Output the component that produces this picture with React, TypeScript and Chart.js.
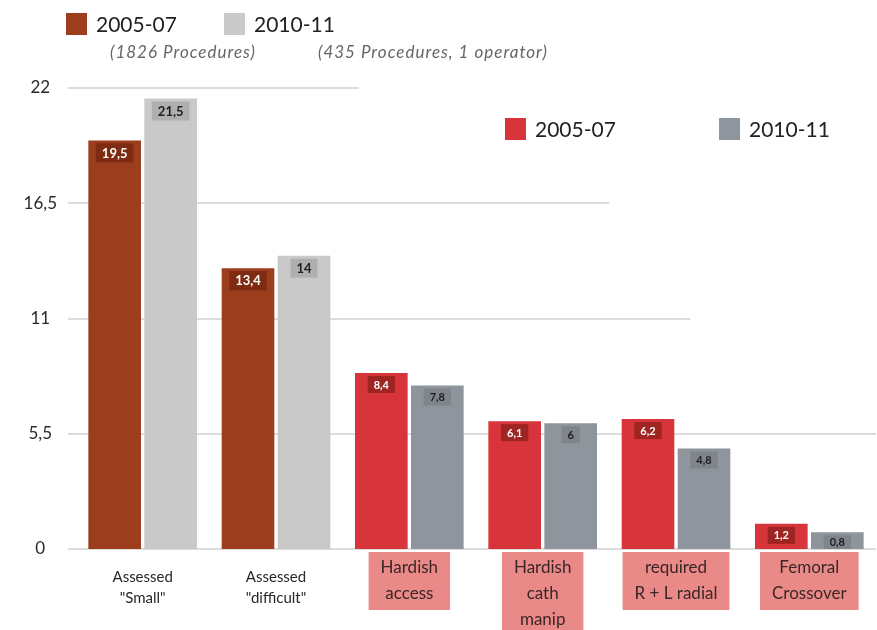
import React, { useEffect, useRef } from "react";
import { Chart, registerables } from "chart.js";

Chart.register(...registerables);

const categories: string[][] = [
  ["Assessed", "\"Small\""],
  ["Assessed", "\"difficult\""],
  ["Hardish", "access"],
  ["Hardish", "cath", "manip"],
  ["required", "R + L radial"],
  ["Femoral", "Crossover"],
];
const series2005: number[] = [19.5, 13.4, 8.4, 6.1, 6.2, 1.2];
const series2010: number[] = [21.5, 14, 7.8, 6, 4.8, 0.8];
const yTicks: number[] = [0, 5.5, 11, 16.5, 22];
const legendTop = ["2005-07", "2010-11"];
const legendTopNotes = ["(1826 Procedures)", "(435 Procedures, 1 operator)"];
const legendRight = ["2005-07", "2010-11"];

const BROWN = "#9c3e1d";
const LIGHT_GREY = "#c9c9c9";
const RED = "#d7343b";
const DARK_GREY = "#8e959d";
const PINK = "#e98a88";
const GRID = "#dcdcdc";
const FONT = "Lato, 'Open Sans', sans-serif";

const fmt = (v: number) => String(v).replace(".", ",");

const colors2005 = categories.map((_, i) => (i < 2 ? BROWN : RED));
const colors2010 = categories.map((_, i) => (i < 2 ? LIGHT_GREY : DARK_GREY));

// fraction of the chart width each gridline spans (the original is a composite image)
const gridExtent = (v: number) => (v >= 22 ? 0.36 : v >= 16.5 ? 0.67 : v >= 11 ? 0.77 : 1);

const backgroundPlugin = {
  id: "bg",
  beforeDraw(chart: any) {
    const ctx = chart.ctx;
    const xs = chart.scales.x;
    const ys = chart.scales.y;
    const { left, right, bottom } = chart.chartArea;
    ctx.save();
    // gridlines
    ctx.strokeStyle = GRID;
    ctx.lineWidth = 2;
    yTicks.forEach((v) => {
      const y = Math.round(ys.getPixelForValue(v));
      const x0 = left - 8;
      const x1 = x0 + (right - x0) * gridExtent(v);
      ctx.beginPath();
      ctx.moveTo(x0, y);
      ctx.lineTo(x1, y);
      ctx.stroke();
    });
    // category labels
    categories.forEach((lines, i) => {
      const cx = xs.getPixelForTick(i);
      if (i < 2) {
        ctx.font = `15px ${FONT}`;
        ctx.fillStyle = "#2a2626";
        ctx.textAlign = "center";
        ctx.textBaseline = "middle";
        lines.forEach((ln, k) => ctx.fillText(ln, cx, bottom + 28 + k * 21));
      } else {
        ctx.font = `17px ${FONT}`;
        const w = Math.max(...lines.map((l) => ctx.measureText(l).width)) + 24;
        const h = lines.length * 26 + 6;
        ctx.fillStyle = PINK;
        ctx.fillRect(cx - w / 2, bottom + 3, w, h);
        ctx.fillStyle = "#3a2626";
        ctx.textAlign = "center";
        ctx.textBaseline = "middle";
        lines.forEach((ln, k) => ctx.fillText(ln, cx, bottom + 19 + k * 26));
      }
    });
    ctx.restore();
  },
};

const overlayPlugin = {
  id: "overlay",
  afterDatasetsDraw(chart: any) {
    const ctx = chart.ctx;
    ctx.save();
    chart.data.datasets.forEach((ds: any, di: number) => {
      const meta = chart.getDatasetMeta(di);
      meta.data.forEach((bar: any, i: number) => {
        const v = ds.data[i];
        const left = i < 2;
        const fs = left ? 13 : 11;
        ctx.font = `bold ${fs}px ${FONT}`;
        const txt = fmt(v);
        const tw = ctx.measureText(txt).width;
        const bw = Math.min(bar.width - 6, tw + 12);
        const cx = bar.x;
        const top = bar.y + 3;
        const bh = Math.min(fs + 6, bar.base - top);
        const isDark = di === 0;
        ctx.fillStyle = isDark ? "rgba(90,20,5,0.45)" : "rgba(60,60,60,0.18)";
        ctx.fillRect(cx - bw / 2, top, bw, bh);
        ctx.fillStyle = isDark ? "#ffffff" : "#1e1e1e";
        ctx.textAlign = "center";
        ctx.textBaseline = "middle";
        ctx.fillText(txt, cx, top + bh / 2 + 0.5);
      });
    });

    const drawItem = (x: number, y: number, color: string, text: string, size: number) => {
      ctx.fillStyle = color;
      ctx.fillRect(x, y - 11, 21, 22);
      ctx.fillStyle = "#222";
      ctx.font = `${size}px ${FONT}`;
      ctx.textAlign = "left";
      ctx.textBaseline = "middle";
      ctx.fillText(text, x + 30, y + 1);
    };
    drawItem(66, 24, BROWN, legendTop[0], 21);
    drawItem(224, 24, LIGHT_GREY, legendTop[1], 21);
    ctx.font = `italic 17px ${FONT}`;
    (ctx as any).letterSpacing = "1px";
    ctx.fillStyle = "#666";
    ctx.textAlign = "left";
    ctx.textBaseline = "middle";
    ctx.fillText(legendTopNotes[0], 110, 53);
    ctx.fillText(legendTopNotes[1], 318, 53);
    (ctx as any).letterSpacing = "0px";

    drawItem(505, 129, RED, legendRight[0], 21);
    drawItem(719, 129, DARK_GREY, legendRight[1], 21);
    ctx.restore();
  },
};

export default function App() {
  const ref = useRef<HTMLCanvasElement>(null);
  useEffect(() => {
    if (!ref.current) return;
    const chart = new Chart(ref.current, {
      type: "bar",
      data: {
        labels: categories,
        datasets: [
          {
            label: "2005-07",
            data: series2005,
            backgroundColor: colors2005,
            categoryPercentage: 0.84,
            barPercentage: 0.94,
          },
          {
            label: "2010-11",
            data: series2010,
            backgroundColor: colors2010,
            categoryPercentage: 0.84,
            barPercentage: 0.94,
          },
        ],
      },
      options: {
        animation: false,
        responsive: true,
        maintainAspectRatio: false,
        layout: { padding: { top: 88, left: 0, right: 1, bottom: 0 } },
        plugins: { legend: { display: false }, tooltip: { enabled: false } },
        scales: {
          x: {
            grid: { display: false, drawTicks: false },
            border: { display: false },
            afterFit: (scale: any) => {
              scale.height = 81;
            },
            ticks: { display: false },
          },
          y: {
            min: 0,
            max: 22,
            afterFit: (scale: any) => {
              scale.width = 76;
            },
            afterBuildTicks: (scale: any) => {
              scale.ticks = yTicks.map((v) => ({ value: v }));
            },
            grid: { display: false, drawTicks: false },
            border: { display: false },
            ticks: {
              padding: 19,
              crossAlign: "center",
              color: "#2a2a2a",
              font: { family: FONT, size: 17 },
              callback: (v: any) => fmt(Number(v)),
            },
          },
        },
      },
      plugins: [backgroundPlugin, overlayPlugin],
    });
    return () => chart.destroy();
  }, []);
  return (
    <div style={{ position: "fixed", left: 0, top: 0, width: 877, height: 630, background: "#fff" }}>
      <canvas ref={ref} />
    </div>
  );
}
